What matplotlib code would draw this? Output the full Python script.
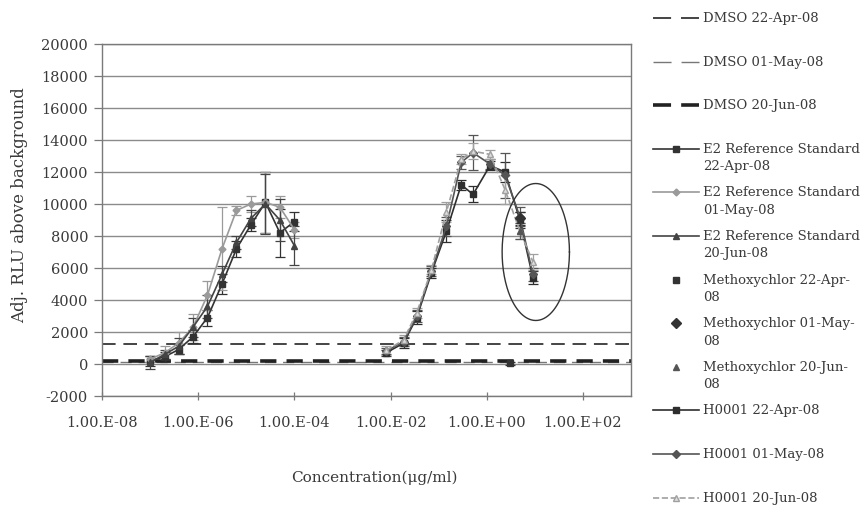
import numpy as np
import matplotlib
matplotlib.use("Agg")
import matplotlib.pyplot as plt
from matplotlib.lines import Line2D
from matplotlib.ticker import FixedLocator, NullLocator

plt.rcParams['font.family'] = ['DejaVu Serif', 'Liberation Serif']

# ---------------- data ----------------
dmso_labels = ["DMSO 22-Apr-08", "DMSO 01-May-08", "DMSO 20-Jun-08"]
dmso_values = [1250, 100, 180]

e2_conc = [1.0e-7, 2.0e-7, 3.9e-7, 7.8e-7, 1.56e-6, 3.13e-6, 6.25e-6, 1.25e-5, 2.5e-5, 5.0e-5, 1.0e-4]
e2_apr = [200, 450, 900, 1700, 2900, 5000, 7200, 8700, 10100, 8200, 8900]
e2_apr_err = [300, 300, 300, 400, 500, 600, 500, 400, 1900, 1500, 600]
e2_may = [300, 700, 1300, 2300, 4300, 7200, 9600, 10000, 10100, 9800, 8400]
e2_may_err = [200, 400, 700, 800, 900, 2600, 300, 500, 1900, 700, 500]
e2_jun = [100, 600, 1100, 2300, 3600, 5600, 7600, 9100, 10000, 9000, 7400]
e2_jun_err = [400, 300, 500, 600, 700, 500, 400, 500, 1900, 1300, 1200]

meth_apr_conc = [3.0]
meth_apr = [50]
meth_apr_err = [100]
meth_may_conc = [4.9]
meth_may = [9100]
meth_may_err = [400]
meth_jun_conc = [4.9]
meth_jun = [8300]
meth_jun_err = [500]

h_conc = [0.0081, 0.0186, 0.035, 0.071, 0.145, 0.295, 0.52, 1.17, 2.4, 4.9, 9.1]
h_apr = [700, 1300, 2900, 5700, 8300, 11200, 10600, 12400, 12000, 9000, 5400]
h_apr_err = [200, 300, 400, 300, 700, 300, 500, 300, 600, 500, 400]
h_may = [800, 1400, 3000, 5800, 8600, 12600, 13200, 12500, 11800, 9200, 5600]
h_may_err = [200, 300, 400, 300, 600, 400, 1100, 300, 1400, 600, 400]
h_jun = [850, 1500, 3200, 5900, 9500, 12800, 13300, 13100, 10900, 8300, 6400]
h_jun_err = [300, 300, 300, 300, 600, 300, 500, 300, 900, 500, 500]

x_ticks = [1e-8, 1e-6, 1e-4, 1e-2, 1e0, 1e2]
x_tick_labels = ["1.00.E-08", "1.00.E-06", "1.00.E-04", "1.00.E-02", "1.00.E+00", "1.00.E+02"]
y_ticks = list(range(-2000, 20001, 2000))

# ---------------- figure ----------------
W, H = 862, 506
fig = plt.figure(figsize=(W / 100, H / 100), dpi=100)
ax = fig.add_axes([102 / W, 1 - 397 / H, (631 - 102) / W, (397 - 45) / H])

ax.set_xscale('log')
ax.set_xlim(1e-8, 1e3)
ax.set_ylim(-2000, 20000)

for v in y_ticks:
    ax.axhline(v, color='#8a8a8a', lw=1.0, zorder=0)

dmso_styles = [dict(color='#444444', lw=1.4, dashes=(7.0, 4.0)),
               dict(color='#777777', lw=1.0, dashes=(8, 5)),
               dict(color='#222222', lw=2.6, dashes=(4.5, 2.8))]
for val, st in zip(dmso_values, dmso_styles):
    ax.axhline(val, zorder=2, **st)

def series(x, y, e, color, marker, ms, ls='-', lw=1.2, mfc=None):
    kw = dict(color=color, marker=marker, markersize=ms, linestyle=ls, lw=lw,
              markerfacecolor=mfc if mfc else color, markeredgecolor=color,
              ecolor=color, elinewidth=0.9, capsize=3.5, capthick=0.9, zorder=3)
    return ax.errorbar(x, y, yerr=e, **kw)

series(e2_conc, e2_apr, e2_apr_err, '#333333', 's', 5)
series(e2_conc, e2_may, e2_may_err, '#9a9a9a', 'D', 3.5)
series(e2_conc, e2_jun, e2_jun_err, '#444444', '^', 5)

series(h_conc, h_apr, h_apr_err, '#2e2e2e', 's', 5)
series(h_conc, h_may, h_may_err, '#555555', 'D', 4)
series(h_conc, h_jun, h_jun_err, '#a0a0a0', '^', 4.5, ls='--', mfc='#dddddd')

series(meth_apr_conc, meth_apr, meth_apr_err, '#333333', 's', 5, ls='none')
series(meth_may_conc, meth_may, meth_may_err, '#333333', 'D', 5, ls='none')
series(meth_jun_conc, meth_jun, meth_jun_err, '#555555', '^', 5, ls='none')

# ellipse highlighting the high-concentration points
t = np.linspace(0, 2 * np.pi, 200)
ax.plot(10 ** (1.02 + 0.70 * np.cos(t)), 7000 + 4280 * np.sin(t),
        color='#333333', lw=1.0, zorder=4)

# axes styling
for s in ax.spines.values():
    s.set_color('#7a7a7a')
    s.set_linewidth(1.0)
ax.xaxis.set_major_locator(FixedLocator(x_ticks))
ax.xaxis.set_minor_locator(NullLocator())
ax.set_xticklabels(x_tick_labels)
ax.set_yticks(y_ticks)
ax.set_yticklabels([str(v) for v in y_ticks])
ax.tick_params(axis='x', direction='inout', length=6, width=0.9, color='#7a7a7a',
               pad=11, labelsize=10.5, labelcolor='#3a3a3a')
ax.tick_params(axis='y', length=6, width=0.9, color='#7a7a7a', pad=4,
               labelsize=10.5, labelcolor='#3a3a3a')
ax.set_xlabel("Concentration(\u03bcg/ml)", fontsize=11, color='#3a3a3a')
ax.xaxis.set_label_coords((374 - 102) / (631 - 102), -(471 - 397) / (397 - 45))
ax.set_ylabel("Adj. RLU above background", fontsize=12, color='#3a3a3a')
ax.yaxis.set_label_coords(-(102 - 28) / (631 - 102), (397 - 205) / (397 - 45))

# ---------------- legend (manual, Excel-like) ----------------
legend_items = [
    ("DMSO 22-Apr-08", dict(color='#444444', lw=1.4, dashes=(9.3, 5.1))),
    ("DMSO 01-May-08", dict(color='#777777', lw=1.0, dashes=(13, 7.2))),
    ("DMSO 20-Jun-08", dict(color='#222222', lw=2.6, dashes=(5.0, 2.8))),
    ("E2 Reference Standard\n22-Apr-08", dict(color='#333333', lw=1.2, marker='s', ms=5)),
    ("E2 Reference Standard\n01-May-08", dict(color='#9a9a9a', lw=1.2, marker='D', ms=3.5)),
    ("E2 Reference Standard\n20-Jun-08", dict(color='#444444', lw=1.2, marker='^', ms=5)),
    ("Methoxychlor 22-Apr-\n08", dict(color='#333333', ls='none', marker='s', ms=5)),
    ("Methoxychlor 01-May-\n08", dict(color='#333333', ls='none', marker='D', ms=5)),
    ("Methoxychlor 20-Jun-\n08", dict(color='#555555', ls='none', marker='^', ms=5)),
    ("H0001 22-Apr-08", dict(color='#2e2e2e', lw=1.2, marker='s', ms=5)),
    ("H0001 01-May-08", dict(color='#555555', lw=1.2, marker='D', ms=4)),
    ("H0001 20-Jun-08", dict(color='#a0a0a0', lw=1.2, ls='--', marker='^', ms=4.5,
                             mfc='#dddddd')),
]
for i, (lab, st) in enumerate(legend_items):
    st = dict(st)
    yp = 19 + 43.6 * i
    yf = 1 - yp / H
    marker = st.pop('marker', None)
    ms = st.pop('ms', None)
    mfc = st.pop('mfc', st['color'])
    if st.get('ls') != 'none':
        fig.add_artist(Line2D([653 / W, 699 / W], [yf, yf],
                              transform=fig.transFigure, **st))
    if marker:
        fig.add_artist(Line2D([676 / W], [yf], transform=fig.transFigure,
                              marker=marker, ms=ms, color=st['color'], ls='none',
                              markerfacecolor=mfc))
    fig.text(703 / W, 1 - (yp - 7) / H, lab, fontsize=9.5, color='#3a3a3a',
             va='top', ha='left', linespacing=1.45)

fig.savefig("out.png", dpi=100)
